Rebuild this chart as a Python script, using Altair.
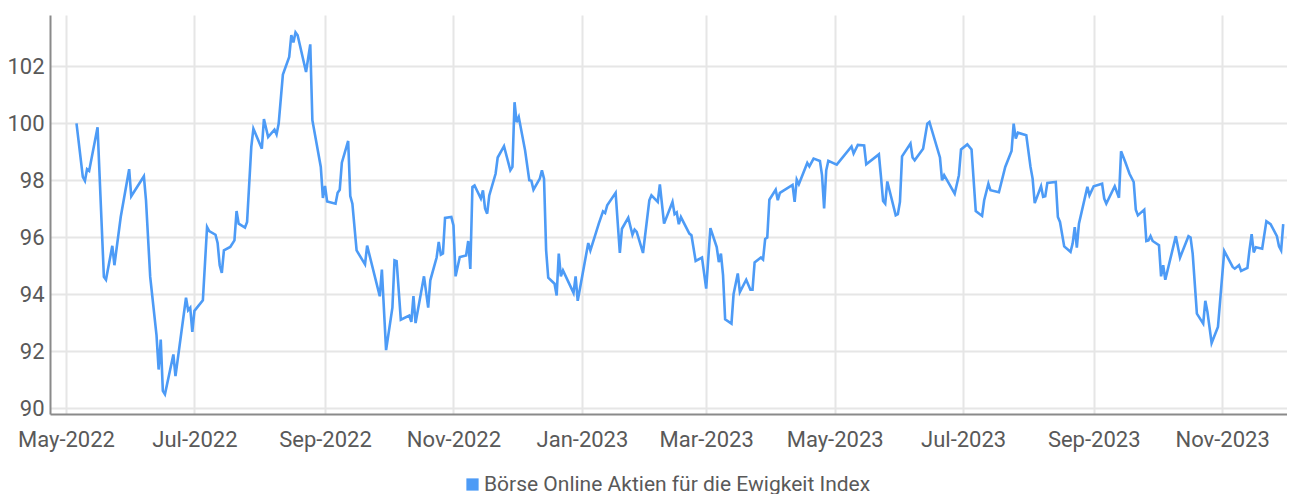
import altair as alt
import pandas as pd

FONT = "Roboto, Liberation Sans, sans-serif"
line_color = "#4d9bf6"
label_color = "#595959"

series_name = "Börse Online Aktien für die Ewigkeit Index"
start_date = "2022-05-01"

# days after start_date
day_offsets = [
    5, 8, 9, 10, 11, 15, 18, 19, 22, 23, 26, 30, 31, 37, 38, 40, 43, 44, 45, 46,
    47, 51, 52, 57, 58, 59, 60, 61, 65, 67, 68, 71, 72, 73, 74, 75, 78, 80, 81, 82,
    85, 86, 88, 89, 93, 94, 96, 99, 100, 101, 103, 106, 107, 108, 109, 110, 114, 116, 117, 121,
    122, 123, 124, 128, 129, 130, 131, 134, 135, 136, 138, 142, 143, 149, 150, 152, 155, 156, 157, 159,
    163, 164, 165, 166, 170, 172, 173, 176, 177, 178, 179, 180, 183, 184, 185, 187, 190, 191, 192, 193,
    194, 197, 198, 199, 200, 201, 204, 205, 208, 211, 212, 213, 214, 215, 218, 220, 221, 222, 225, 226,
    227, 228, 229, 232, 233, 234, 235, 236, 241, 242, 243, 248, 249, 251, 253, 255, 256, 257, 261, 263,
    264, 267, 269, 270, 271, 274, 277, 278, 281, 282, 284, 288, 289, 290, 291, 292, 296, 297, 299, 302,
    304, 306, 309, 310, 311, 312, 313, 316, 317, 319, 320, 323, 325, 326, 327, 330, 331, 332, 333, 334,
    337, 338, 339, 345, 346, 347, 348, 352, 353, 355, 358, 359, 360, 361, 362, 366, 373, 374, 376, 379,
    380, 386, 387, 388, 389, 390, 394, 395, 396, 397, 401, 402, 403, 407, 409, 410, 415, 416, 417, 422,
    424, 425, 428, 430, 432, 435, 436, 438, 439, 443, 446, 449, 450, 451, 452, 456, 458, 459, 460, 463,
    464, 465, 466, 470, 471, 472, 474, 477, 478, 479, 480, 481, 485, 486, 488, 492, 493, 494, 498, 500,
    501, 503, 505, 507, 508, 509, 512, 513, 514, 515, 516, 519, 520, 521, 522, 527, 529, 533, 534, 535,
    537, 540, 541, 542, 544, 547, 550, 554, 555, 557, 558, 561, 562, 563, 564, 565, 568, 570, 572, 575,
    576, 577, 578,
]

index_values = [
    100.0, 98.12, 97.98, 98.39, 98.33, 99.86, 94.61, 94.51, 95.70, 95.02, 96.71, 98.39, 97.44, 98.14, 97.30, 94.61, 92.56, 91.36, 92.41, 90.61,
    90.49, 91.89, 91.13, 93.88, 93.44, 93.53, 92.68, 93.42, 93.79, 96.36, 96.22, 96.09, 95.80, 95.02, 94.75, 95.54, 95.66, 95.89, 96.92, 96.48,
    96.34, 96.54, 99.17, 99.81, 99.11, 100.15, 99.52, 99.78, 99.61, 99.99, 101.71, 102.33, 103.09, 102.84, 103.19, 103.09, 101.80, 102.77, 100.11, 98.47,
    97.38, 97.80, 97.26, 97.18, 97.56, 97.67, 98.62, 99.38, 97.45, 97.18, 95.54, 95.05, 95.71, 93.93, 94.87, 92.04, 93.53, 95.19, 95.16, 93.11,
    93.25, 93.03, 93.94, 92.99, 94.63, 93.53, 94.49, 95.29, 95.84, 95.39, 95.43, 96.68, 96.71, 96.42, 94.63, 95.31, 95.36, 95.87, 94.89, 97.77,
    97.82, 97.36, 97.65, 97.01, 96.83, 97.47, 98.23, 98.80, 99.20, 98.35, 98.47, 100.74, 100.04, 100.22, 99.05, 98.00, 97.98, 97.67, 98.06, 98.35,
    98.06, 95.54, 94.58, 94.37, 93.96, 95.43, 94.63, 94.84, 94.05, 94.63, 93.77, 95.80, 95.54, 96.01, 96.48, 96.91, 96.85, 97.12, 97.56, 95.45,
    96.30, 96.69, 96.09, 96.27, 96.19, 95.45, 97.30, 97.47, 97.24, 97.86, 96.48, 97.24, 96.81, 96.87, 96.46, 96.71, 96.13, 96.07, 95.17, 95.29,
    94.20, 96.32, 95.66, 95.13, 95.43, 94.67, 93.12, 92.97, 94.00, 94.73, 94.08, 94.51, 94.16, 94.16, 95.12, 95.29, 95.22, 95.94, 95.99, 97.32,
    97.67, 97.30, 97.56, 97.84, 97.24, 98.02, 97.86, 98.61, 98.49, 98.76, 98.68, 98.18, 97.01, 98.35, 98.68, 98.55, 99.19, 98.94, 99.24, 99.22,
    98.56, 98.91, 98.12, 97.27, 97.18, 97.96, 96.77, 96.81, 97.24, 98.84, 99.29, 98.80, 98.70, 99.11, 99.99, 100.05, 98.80, 98.00, 98.18, 97.53,
    98.18, 99.08, 99.26, 99.08, 96.92, 96.75, 97.30, 97.88, 97.65, 97.58, 98.47, 99.03, 99.99, 99.46, 99.67, 99.58, 98.47, 98.06, 97.20, 97.79,
    97.42, 97.44, 97.91, 97.94, 96.71, 96.54, 95.68, 95.49, 95.78, 96.36, 95.64, 96.48, 97.77, 97.47, 97.79, 97.88, 97.36, 97.18, 97.79, 97.39,
    99.02, 98.64, 98.23, 97.94, 96.97, 96.77, 96.97, 95.87, 95.89, 96.04, 95.87, 95.72, 94.63, 95.02, 94.51, 96.04, 95.29, 96.04, 95.99, 95.43,
    93.32, 92.97, 93.77, 93.39, 92.29, 92.85, 95.52, 94.96, 94.90, 95.02, 94.82, 94.93, 95.57, 96.11, 95.47, 95.65, 95.60, 96.56, 96.46, 96.04,
    95.68, 95.54, 96.46,
]

y_ticks = [90, 92, 94, 96, 98, 100, 102]
x_tick_months = [(2022, 5), (2022, 7), (2022, 9), (2022, 11), (2023, 1), (2023, 3),
                 (2023, 5), (2023, 7), (2023, 9), (2023, 11)]

dates = pd.Timestamp(start_date) + pd.to_timedelta(day_offsets, unit="D")
df = pd.DataFrame({
    "date": dates.strftime("%Y-%m-%d"),
    "value": index_values,
    "series": series_name,
})

x_values = [alt.DateTime(year=y, month=m, date=1) for y, m in x_tick_months]

chart = alt.Chart(df).mark_line(strokeWidth=2.6, color=line_color).encode(
    x=alt.X(
        "date:T",
        scale=alt.Scale(domain=[alt.DateTime(year=2022, month=4, date=23, hours=10),
                                alt.DateTime(year=2023, month=12, date=1, hours=19)]),
        axis=alt.Axis(values=x_values, format="%b-%Y", title=None, grid=True,
                      ticks=False, labelPadding=15, labelFontSize=22),
    ),
    y=alt.Y(
        "value:Q",
        scale=alt.Scale(domain=[89.8, 103.8], nice=False, zero=False),
        axis=alt.Axis(values=y_ticks, title=None, grid=True, ticks=False,
                      labelPadding=6, labelFontSize=22),
    ),
    color=alt.Color(
        "series:N",
        scale=alt.Scale(range=[line_color]),
        legend=alt.Legend(
            title=None, orient="none", legendX=412, legendY=459,
            symbolType="square", symbolSize=150, symbolFillColor=line_color,
            symbolStrokeColor=line_color, symbolStrokeWidth=0,
            labelFontSize=21, labelColor=label_color, labelFont=FONT,
            labelOffset=1, padding=0, labelLimit=0,
        ),
    ),
).properties(
    width=1237,
    height=399,
    autosize=alt.AutoSizeParams(type="none"),
    padding={"left": 42, "top": 7, "right": 0, "bottom": 80},
).configure_view(
    stroke=None
).configure_axis(
    labelFont=FONT,
    labelColor=label_color,
    domainColor="#8a8a8a",
    domainWidth=2,
    gridColor="#e6e6e6",
    gridWidth=2,
)

chart.save("out.html", embed_options={"renderer": "svg", "actions": False})
